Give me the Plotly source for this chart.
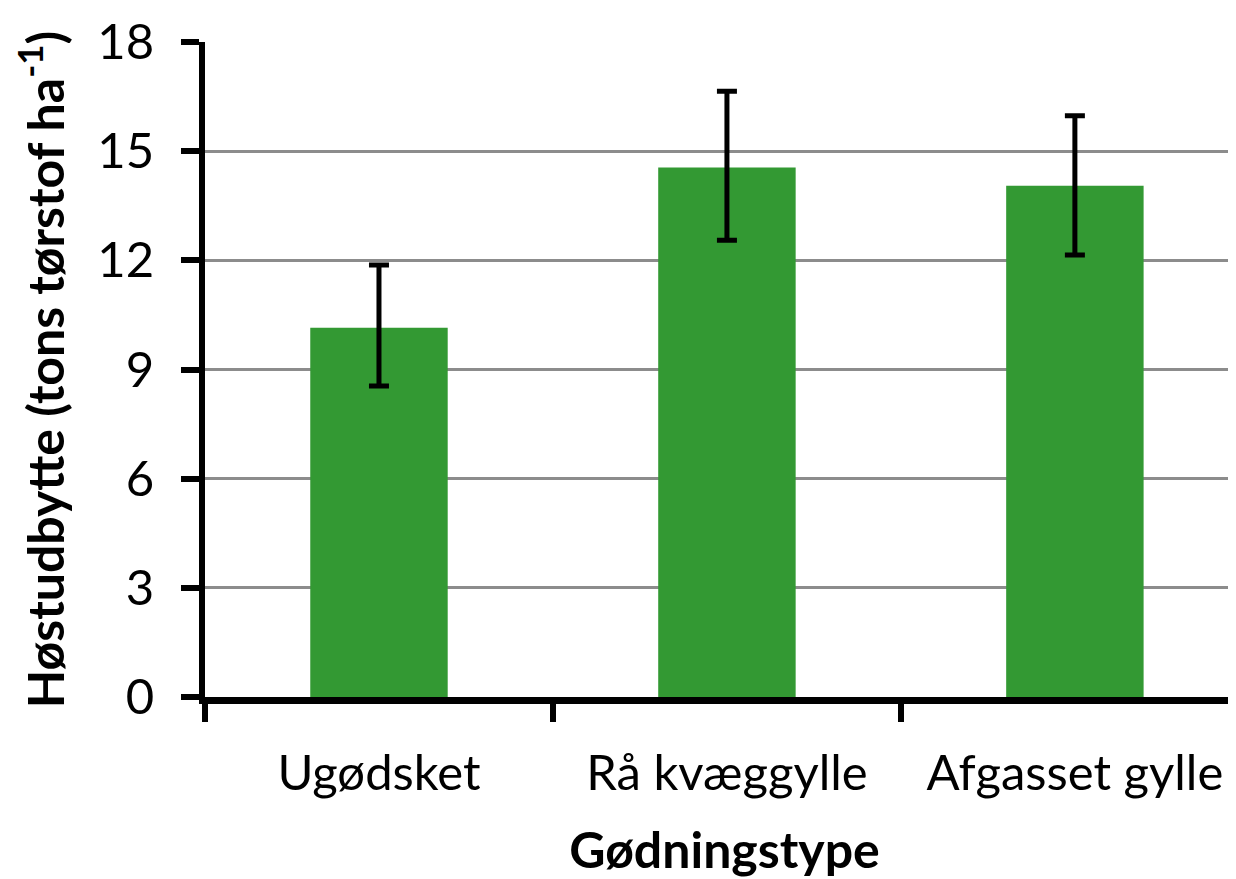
import plotly.graph_objects as go

categories = ["Ugødsket", "Rå kvæggylle", "Afgasset gylle"]
yields = [10.15, 14.55, 14.05]
err_plus = [1.72, 2.1, 1.92]
err_minus = [1.6, 2.0, 1.9]
y_ticks = [0, 3, 6, 9, 12, 15, 18]

FONT = "Lato"

fig = go.Figure()
fig.add_trace(go.Bar(
    x=categories, y=yields,
    marker=dict(color="#339933", line=dict(width=0)),
    width=0.395,
    error_y=dict(type="data", symmetric=False, array=err_plus, arrayminus=err_minus,
                 color="black", thickness=5, width=10),
))

fig.update_layout(
    width=1236, height=879,
    margin=dict(l=197, r=0, t=34, b=190),
    paper_bgcolor="white", plot_bgcolor="white",
    showlegend=False,
    font=dict(family=FONT, color="black"),
)
fig.update_xaxes(
    range=[-0.5, 2.486],
    showline=True, linecolor="black", linewidth=7,
    ticks="outside", tickson="boundaries", ticklen=18, tickwidth=6, tickcolor="black",
    tickfont=dict(size=49, family=FONT),
    ticklabelstandoff=27,
    title=dict(text="<b>Gødningstype</b>", font=dict(size=50, family=FONT), standoff=37),
    showgrid=False,
)
fig.update_yaxes(
    range=[0, 18], tickvals=y_ticks,
    showline=True, linecolor="black", linewidth=6,
    ticks="outside", ticklen=18, tickwidth=6, tickcolor="black",
    tickfont=dict(size=49, family=FONT),
    ticklabelstandoff=17,
    showgrid=True, gridcolor="#8c8c8c", gridwidth=2.5,
    zeroline=False,
    title=dict(text="<b>Høstudbytte (tons tørstof ha<sup>-1</sup>)</b>",
               font=dict(size=50, family=FONT), standoff=22),
)

fig.write_html("out.html")
